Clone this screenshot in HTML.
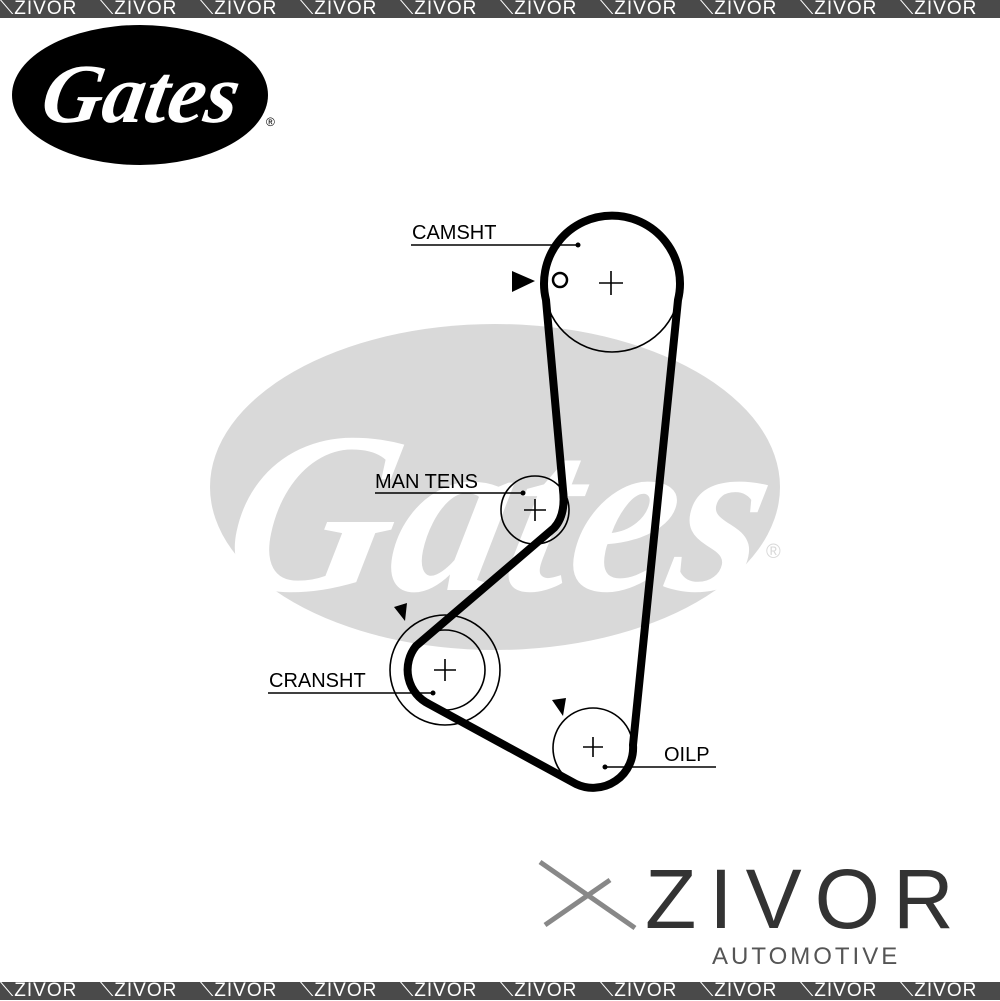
<!DOCTYPE html>
<html><head><style>
body{margin:0;width:1000px;height:1000px;background:#fff;overflow:hidden;font-family:"Liberation Sans",sans-serif}
.bar{position:absolute;left:0;width:1000px;height:18px;background:#4a4a4a;color:#fff;font-size:19px;line-height:18px;white-space:nowrap;display:flex}
.bar span{width:100px;flex:none;letter-spacing:1px}
</style></head><body>
<div class="bar" style="top:0"><span>⟍ZIVOR</span><span>⟍ZIVOR</span><span>⟍ZIVOR</span><span>⟍ZIVOR</span><span>⟍ZIVOR</span><span>⟍ZIVOR</span><span>⟍ZIVOR</span><span>⟍ZIVOR</span><span>⟍ZIVOR</span><span>⟍ZIVOR</span></div>
<div class="bar" style="top:982px"><span>⟍ZIVOR</span><span>⟍ZIVOR</span><span>⟍ZIVOR</span><span>⟍ZIVOR</span><span>⟍ZIVOR</span><span>⟍ZIVOR</span><span>⟍ZIVOR</span><span>⟍ZIVOR</span><span>⟍ZIVOR</span><span>⟍ZIVOR</span></div>
<svg width="1000" height="1000" style="position:absolute;left:0;top:0" xmlns="http://www.w3.org/2000/svg">
<ellipse cx="140" cy="95" rx="128" ry="70" fill="#000"/>
<text x="140" y="122" text-anchor="middle" font-family="Liberation Serif" font-style="italic" font-weight="bold" font-size="84" fill="#fff" transform="skewX(-10) translate(18,0)">Gates</text>
<text x="266" y="126" font-size="12" fill="#000">®</text>
<ellipse cx="495" cy="487" rx="285" ry="163" fill="#d9d9d9"/>
<text x="500" y="590" text-anchor="middle" font-family="Liberation Serif" font-style="italic" font-weight="bold" font-size="230" fill="#fff" transform="skewX(-12) translate(110,0)">Gates</text>
<text x="766" y="558" font-size="20" fill="#d9d9d9">®</text>
<g fill="none" stroke="#000" stroke-width="1.6">
<circle cx="612" cy="284" r="68"/>
<circle cx="535" cy="510" r="34"/>
<circle cx="445" cy="670" r="40"/>
<circle cx="445" cy="670" r="55"/>
<circle cx="593" cy="748" r="40"/>
<circle cx="560" cy="280" r="7" stroke-width="2.5"/>
<path d="M599 283h24M611 271v24M524 510h22M535 499v22M434 670h22M445 659v22M583 747h20M593 737v20"/>
<path d="M411 245H578M375 493H523M268 693H433M605 767H716"/>
</g>
<g fill="#000"><circle cx="578" cy="245" r="2.5"/><circle cx="523" cy="493" r="2.5"/><circle cx="433" cy="693" r="2.5"/><circle cx="605" cy="767" r="2.5"/>
<path d="M512 271L535 281L512 292Z"/><path d="M394 607L407 603L405 621Z"/><path d="M552 700L566 698L563 716Z"/></g>
<path d="M546 300 A68 68 0 1 1 678 300 L633 745 A40 40 0 0 1 576 784 L429 704 A38 38 0 0 1 416 646 L554 528 Q566 515 563 490 Z" fill="none" stroke="#000" stroke-width="8" stroke-linejoin="round"/>
<g font-size="20" fill="#000"><text x="412" y="239">CAMSHT</text><text x="375" y="488">MAN TENS</text><text x="269" y="687">CRANSHT</text><text x="664" y="761">OILP</text></g>
<path d="M540 862L635 928M545 925L610 880" stroke="#888" stroke-width="5"/>
<text x="645" y="928" font-size="84" fill="#333" letter-spacing="13">ZIVOR</text>
<text x="712" y="964" font-size="24" fill="#555" letter-spacing="3">AUTOMOTIVE</text>
</svg>
</body></html>
